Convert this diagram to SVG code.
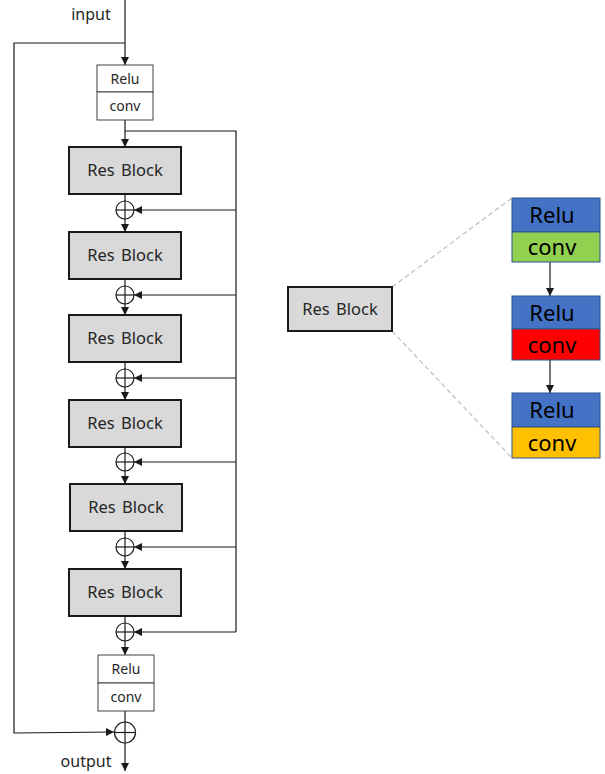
<svg xmlns="http://www.w3.org/2000/svg" width="605" height="774" viewBox="0 0 605 774">
<style>
.t{font-family:"Noto Sans","Open Sans","DejaVu Sans",sans-serif;fill:#262626}
.rb rect{fill:#D9D9D9;stroke:#1a1a1a;stroke-width:2}
.rb text{font-size:16.5px;text-anchor:middle;word-spacing:2px}
.rc rect{fill:#fff;stroke:#404040;stroke-width:1}
.rc text{font-size:14px;text-anchor:middle}
.ln{fill:none;stroke:#1a1a1a;stroke-width:1.2}
.sum circle{fill:#fff;stroke:#1a1a1a;stroke-width:1.2}
.sum line{stroke:#1a1a1a;stroke-width:1.2}
.cb rect{stroke:#2F528F;stroke-width:1}
.cb text{font-size:22px;text-anchor:middle;fill:#000}
.dash{stroke:#BFBFBF;stroke-width:1.2;stroke-dasharray:5 3;fill:none}
</style>
<defs>
<marker id="ah" viewBox="0 0 10 10" refX="10" refY="5" markerWidth="8" markerHeight="8" markerUnits="userSpaceOnUse" orient="auto">
<path d="M0,0 L10,5 L0,10 z" fill="#1a1a1a"/>
</marker>
</defs>

<text class="t" x="91" y="20" font-size="16" text-anchor="middle">input</text>
<text class="t" x="86" y="767" font-size="16" text-anchor="middle">output</text>

<g id="connectors">
<line class="ln" x1="125" y1="0" x2="125" y2="65" marker-end="url(#ah)"/>
<polyline class="ln" points="125,43 14,43 14,733 114,732" marker-end="url(#ah)"/>
<line class="ln" x1="125" y1="120" x2="125" y2="147" marker-end="url(#ah)"/>
<polyline class="ln" points="125,131 236,131 236,632"/>
<line class="ln" x1="236" y1="210" x2="134" y2="210" marker-end="url(#ah)"/>
<line class="ln" x1="236" y1="295" x2="134" y2="295" marker-end="url(#ah)"/>
<line class="ln" x1="236" y1="378" x2="134" y2="378" marker-end="url(#ah)"/>
<line class="ln" x1="236" y1="462" x2="134" y2="462" marker-end="url(#ah)"/>
<line class="ln" x1="236" y1="547" x2="134" y2="547" marker-end="url(#ah)"/>
<line class="ln" x1="236" y1="632" x2="134" y2="632" marker-end="url(#ah)"/>
<line class="ln" x1="125" y1="194" x2="125" y2="201"/>
<line class="ln" x1="125" y1="219" x2="125" y2="232" marker-end="url(#ah)"/>
<line class="ln" x1="125" y1="279" x2="125" y2="286"/>
<line class="ln" x1="125" y1="304" x2="125" y2="315" marker-end="url(#ah)"/>
<line class="ln" x1="125" y1="362" x2="125" y2="369"/>
<line class="ln" x1="125" y1="387" x2="125" y2="400" marker-end="url(#ah)"/>
<line class="ln" x1="125" y1="447" x2="125" y2="453"/>
<line class="ln" x1="125" y1="471" x2="125" y2="484" marker-end="url(#ah)"/>
<line class="ln" x1="125" y1="531" x2="125" y2="538"/>
<line class="ln" x1="125" y1="556" x2="125" y2="569" marker-end="url(#ah)"/>
<line class="ln" x1="125" y1="616" x2="125" y2="623"/>
<line class="ln" x1="125" y1="641" x2="125" y2="655" marker-end="url(#ah)"/>
<line class="ln" x1="125" y1="711" x2="125" y2="722"/>
<line class="ln" x1="125" y1="743" x2="125" y2="771" marker-end="url(#ah)"/>
<line class="dash" x1="392" y1="287" x2="512" y2="198"/>
<line class="dash" x1="392" y1="331" x2="512" y2="458"/>
<line class="ln" x1="550" y1="262" x2="550" y2="296" marker-end="url(#ah)"/>
<line class="ln" x1="550" y1="360" x2="550" y2="393" marker-end="url(#ah)"/>
</g>

<g id="top-relu-conv" class="rc">
<rect x="97" y="65" width="56" height="27"/>
<rect x="97" y="92" width="56" height="28"/>
<text class="t" x="125" y="84">Relu</text>
<text class="t" x="125" y="111">conv</text>
</g>

<g id="resblock1" class="rb"><rect x="69" y="147" width="112" height="47"/><text class="t" x="125" y="176">Res Block</text></g>
<g id="resblock2" class="rb"><rect x="69" y="232" width="112" height="47"/><text class="t" x="125" y="261">Res Block</text></g>
<g id="resblock3" class="rb"><rect x="69" y="315" width="112" height="47"/><text class="t" x="125" y="344">Res Block</text></g>
<g id="resblock4" class="rb"><rect x="69" y="400" width="112" height="47"/><text class="t" x="125" y="429">Res Block</text></g>
<g id="resblock5" class="rb"><rect x="70" y="484" width="112" height="47"/><text class="t" x="126" y="513">Res Block</text></g>
<g id="resblock6" class="rb"><rect x="69" y="569" width="112" height="47"/><text class="t" x="125" y="598">Res Block</text></g>

<g id="sum1" class="sum"><circle cx="125" cy="210" r="9"/><line x1="116" y1="210" x2="134" y2="210"/><line x1="125" y1="201" x2="125" y2="219"/></g>
<g id="sum2" class="sum"><circle cx="125" cy="295" r="9"/><line x1="116" y1="295" x2="134" y2="295"/><line x1="125" y1="286" x2="125" y2="304"/></g>
<g id="sum3" class="sum"><circle cx="125" cy="378" r="9"/><line x1="116" y1="378" x2="134" y2="378"/><line x1="125" y1="369" x2="125" y2="387"/></g>
<g id="sum4" class="sum"><circle cx="125" cy="462" r="9"/><line x1="116" y1="462" x2="134" y2="462"/><line x1="125" y1="453" x2="125" y2="471"/></g>
<g id="sum5" class="sum"><circle cx="125" cy="547" r="9"/><line x1="116" y1="547" x2="134" y2="547"/><line x1="125" y1="538" x2="125" y2="556"/></g>
<g id="sum6" class="sum"><circle cx="125" cy="632" r="9"/><line x1="116" y1="632" x2="134" y2="632"/><line x1="125" y1="623" x2="125" y2="641"/></g>

<g id="bottom-relu-conv" class="rc">
<rect x="98" y="655" width="56" height="28"/>
<rect x="98" y="683" width="56" height="28"/>
<text class="t" x="126" y="674">Relu</text>
<text class="t" x="126" y="702">conv</text>
</g>

<g id="sum-final" class="sum"><circle cx="125" cy="732.5" r="10.5"/><line x1="114.5" y1="732.5" x2="135.5" y2="732.5"/><line x1="125" y1="722" x2="125" y2="743"/></g>

<g id="resblock-detail" class="rb"><rect x="288" y="287" width="104" height="44"/><text class="t" x="340" y="315">Res Block</text></g>

<g id="detail1" class="cb">
<rect x="512" y="198" width="88" height="34" fill="#4472C4"/>
<rect x="512" y="232" width="88" height="30" fill="#92D050"/>
<text class="t" x="552" y="223">Relu</text>
<text class="t" x="552" y="255">conv</text>
</g>
<g id="detail2" class="cb">
<rect x="512" y="296" width="88" height="33" fill="#4472C4"/>
<rect x="512" y="329" width="88" height="31" fill="#FF0000"/>
<text class="t" x="552" y="321">Relu</text>
<text class="t" x="552" y="353">conv</text>
</g>
<g id="detail3" class="cb">
<rect x="512" y="393" width="88" height="34" fill="#4472C4"/>
<rect x="512" y="427" width="88" height="31" fill="#FFC000"/>
<text class="t" x="552" y="418">Relu</text>
<text class="t" x="552" y="451">conv</text>
</g>
</svg>
